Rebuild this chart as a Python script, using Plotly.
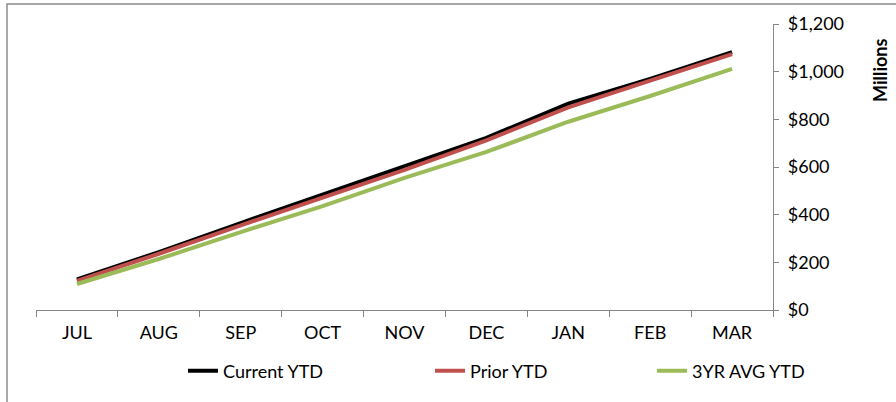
import plotly.graph_objects as go

months = ["JUL", "AUG", "SEP", "OCT", "NOV", "DEC", "JAN", "FEB", "MAR"]
current_ytd = [128, 243, 365, 483, 600, 722, 866, 970, 1082]
prior_ytd = [122, 236, 355, 472, 588, 712, 850, 962, 1074]
avg3_ytd = [109, 214, 327, 436, 554, 663, 790, 898, 1012]
y_ticks = [0, 200, 400, 600, 800, 1000, 1200]
y_tick_labels = ["$0", "$200", "$400", "$600", "$800", "$1,000", "$1,200"]
y_title = "Millions"

FONT = "Lato, Calibri, Carlito, sans-serif"
FS = 18

# plot area in screen pixels (page body margin removed via post_script)
L, R, T, B = 36, 773, 24, 310
W, H = 896, 402

def px_x(p):
    return (p - L) / (R - L)

def px_y(p):
    return (B - p) / (B - T)

series = [("Current YTD", current_ytd, "#000000", "legend", 183),
          ("Prior YTD", prior_ytd, "#C0504D", "legend2", 430),
          ("3YR AVG YTD", avg3_ytd, "#9BBB59", "legend3", 652)]

fig = go.Figure()
legends = {}
for name, vals, col, lg, lx in series:
    fig.add_trace(go.Scatter(x=months, y=vals, name=name, mode="lines",
                             line=dict(color=col, width=4), legend=lg))
    legends[lg] = dict(orientation="h", x=px_x(lx), xanchor="left",
                       y=px_y(371), yanchor="middle",
                       bgcolor="rgba(0,0,0,0)",
                       font=dict(family=FONT, size=FS, color="#000000"))

fig.update_layout(
    width=W, height=H,
    margin=dict(l=L, r=W - R, t=T, b=H - B, autoexpand=False),
    paper_bgcolor="white", plot_bgcolor="white",
    font=dict(family=FONT, size=FS, color="#000000"),
    showlegend=True,
    xaxis=dict(range=[-0.5, 8.5], showline=True, linecolor="#868686", linewidth=1.3,
               ticks="outside", ticklen=6, tickcolor="#868686", tickson="boundaries",
               showgrid=False, zeroline=False, fixedrange=True,
               ticklabelstandoff=6,
               tickfont=dict(family=FONT, size=FS)),
    yaxis=dict(side="right", range=[0, 1200], tickvals=y_ticks, ticktext=y_tick_labels,
               showline=True, linecolor="#868686", linewidth=1.3,
               ticks="outside", ticklen=5, tickcolor="#868686",
               showgrid=False, zeroline=False,
               ticklabelstandoff=5,
               tickfont=dict(family=FONT, size=FS)),
    annotations=[dict(text="<b>" + y_title + "</b>", xref="paper", yref="paper",
                      x=px_x(880), y=px_y(70), xanchor="center", yanchor="middle",
                      textangle=-90, showarrow=False,
                      font=dict(family=FONT, size=FS, color="#000000"))],
    shapes=[dict(type="rect", xref="paper", yref="paper",
                 x0=px_x(7), x1=px_x(905), y0=px_y(410), y1=px_y(4),
                 line=dict(color="#8c8c8c", width=1.5), layer="below")],
    **legends,
)

fig.write_html("out.html", config={"displayModeBar": False},
               post_script="document.body.style.margin='0';")
